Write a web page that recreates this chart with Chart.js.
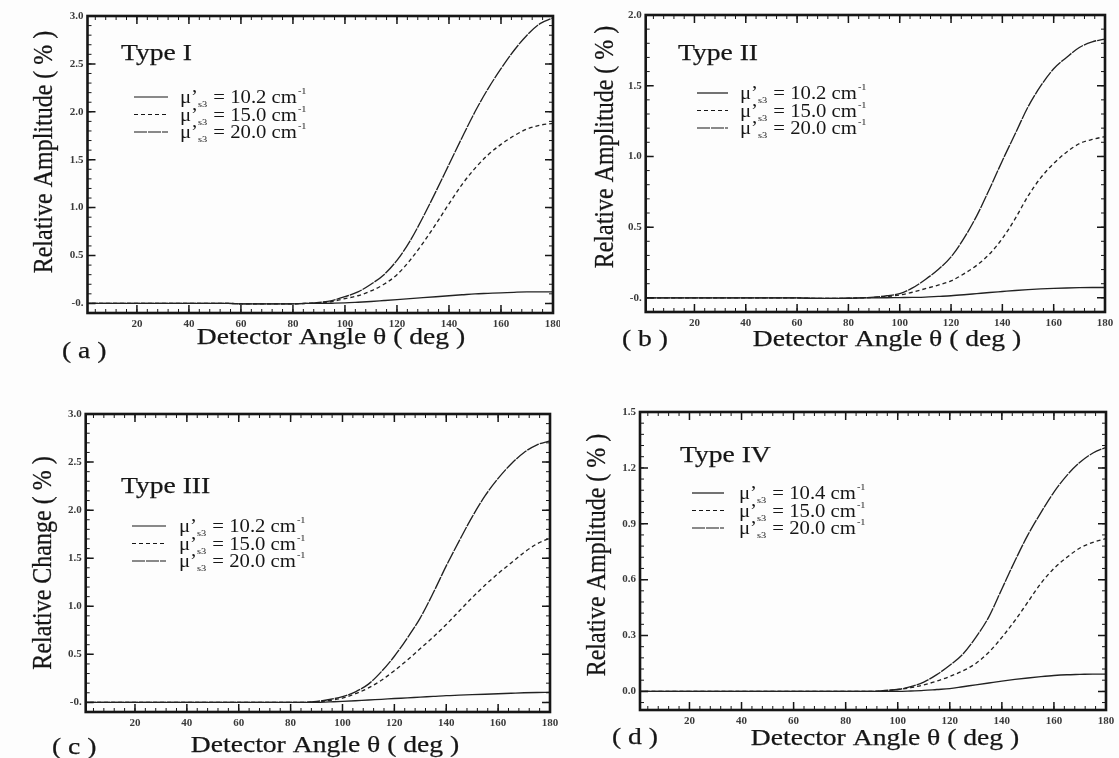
<!DOCTYPE html>
<html>
<head>
<meta charset="utf-8">
<script src="https://cdn.jsdelivr.net/npm/chart.js@4.4.1/dist/chart.umd.min.js"></script>
<style>
  html, body { margin: 0; padding: 0; background: #fdfdfd; overflow: hidden; }
  #wrap { position: relative; width: 1119px; height: 758px; }
  .panel { position: absolute; width: 560px; height: 380px; }
</style>
</head>
<body>
<div id="wrap">
  <div class="panel" style="left:0;top:0"><canvas id="chartA" width="560" height="380"></canvas></div>
  <div class="panel" style="left:560px;top:0"><canvas id="chartB" width="560" height="380"></canvas></div>
  <div class="panel" style="left:0;top:380px"><canvas id="chartC" width="560" height="380"></canvas></div>
  <div class="panel" style="left:560px;top:380px"><canvas id="chartD" width="560" height="380"></canvas></div>
</div>
<script>
// detector angle (deg), 0..180 every 5 deg
const angles = [0, 5, 10, 15, 20, 25, 30, 35, 40, 45, 50, 55, 60, 65, 70, 75, 80, 85,
                90, 95, 100, 105, 110, 115, 120, 125, 130, 135, 140, 145, 150, 155, 160, 165, 170, 175, 180];
const xTicks = [20, 40, 60, 80, 100, 120, 140, 160, 180];

// Type I - relative amplitude (%)
const typeI_mu10 = [0, 0, 0, 0, 0, 0, 0, 0, 0, 0, 0, 0, -0.004, -0.005, -0.005, -0.005, -0.004, 0,
  0, 0.002, 0.005, 0.012, 0.02, 0.03, 0.04, 0.05, 0.06, 0.07, 0.08, 0.09, 0.10, 0.105, 0.11, 0.116, 0.12, 0.12, 0.12];
const typeI_mu15 = [0, 0, 0, 0, 0, 0, 0, 0, 0, 0, 0, 0, -0.004, -0.005, -0.005, -0.005, -0.004, 0,
  0.005, 0.02, 0.05, 0.08, 0.13, 0.20, 0.30, 0.45, 0.63, 0.83, 1.04, 1.24, 1.41, 1.55, 1.66, 1.75, 1.82, 1.86, 1.88];
const typeI_mu20 = [0, 0, 0, 0, 0, 0, 0, 0, 0, 0, 0, 0, -0.004, -0.005, -0.005, -0.005, -0.004, 0,
  0.01, 0.03, 0.07, 0.12, 0.20, 0.30, 0.45, 0.65, 0.90, 1.17, 1.45, 1.73, 2.00, 2.24, 2.45, 2.64, 2.80, 2.92, 2.98];

// Type II - relative amplitude (%)
const typeII_mu10 = [0, 0, 0, 0, 0, 0, 0, 0, 0, 0, 0, 0, 0, -0.003, -0.004, -0.004, -0.003, 0,
  0, 0.001, 0.002, 0.003, 0.005, 0.01, 0.015, 0.022, 0.03, 0.038, 0.045, 0.052, 0.058, 0.063, 0.067, 0.07, 0.072, 0.073, 0.073];
const typeII_mu15 = [0, 0, 0, 0, 0, 0, 0, 0, 0, 0, 0, 0, 0, -0.003, -0.004, -0.004, -0.003, 0,
  0.003, 0.01, 0.02, 0.04, 0.065, 0.09, 0.12, 0.17, 0.23, 0.31, 0.42, 0.56, 0.72, 0.85, 0.95, 1.03, 1.09, 1.12, 1.14];
const typeII_mu20 = [0, 0, 0, 0, 0, 0, 0, 0, 0, 0, 0, 0, 0, -0.003, -0.004, -0.004, -0.003, 0,
  0.005, 0.015, 0.03, 0.07, 0.13, 0.20, 0.29, 0.42, 0.58, 0.77, 0.97, 1.16, 1.35, 1.50, 1.62, 1.70, 1.77, 1.81, 1.83];

// Type III - relative change (%)
const typeIII_mu10 = [0, 0, 0, 0, 0, 0, 0, 0, 0, 0, 0, 0, 0, 0, 0, 0, 0, 0,
  0, 0.005, 0.01, 0.017, 0.025, 0.032, 0.04, 0.047, 0.055, 0.062, 0.07, 0.075, 0.08, 0.085, 0.09, 0.095, 0.10, 0.103, 0.105];
const typeIII_mu15 = [0, 0, 0, 0, 0, 0, 0, 0, 0, 0, 0, 0, 0, 0, 0, 0, 0, 0,
  0.005, 0.02, 0.045, 0.09, 0.15, 0.23, 0.33, 0.44, 0.56, 0.68, 0.81, 0.95, 1.09, 1.22, 1.34, 1.45, 1.56, 1.65, 1.71];
const typeIII_mu20 = [0, 0, 0, 0, 0, 0, 0, 0, 0, 0, 0, 0, 0, 0, 0, 0, 0, 0,
  0.01, 0.03, 0.06, 0.11, 0.19, 0.32, 0.48, 0.67, 0.88, 1.14, 1.42, 1.68, 1.93, 2.15, 2.33, 2.48, 2.60, 2.68, 2.72];

// Type IV - relative amplitude (%)
const typeIV_mu104 = [0, 0, 0, 0, 0, 0, 0, 0, 0, 0, 0, 0, 0, 0, 0, 0, 0, 0,
  0, 0, 0, 0.002, 0.005, 0.01, 0.015, 0.025, 0.035, 0.045, 0.055, 0.064, 0.072, 0.079, 0.085, 0.089, 0.091, 0.093, 0.093];
const typeIV_mu15 = [0, 0, 0, 0, 0, 0, 0, 0, 0, 0, 0, 0, 0, 0, 0, 0, 0, 0,
  0, 0.003, 0.01, 0.02, 0.035, 0.055, 0.08, 0.11, 0.15, 0.21, 0.29, 0.38, 0.48, 0.58, 0.66, 0.72, 0.77, 0.80, 0.82];
const typeIV_mu20 = [0, 0, 0, 0, 0, 0, 0, 0, 0, 0, 0, 0, 0, 0, 0, 0, 0, 0,
  0, 0.005, 0.01, 0.025, 0.05, 0.09, 0.14, 0.20, 0.29, 0.40, 0.55, 0.70, 0.84, 0.96, 1.07, 1.16, 1.23, 1.28, 1.31];

// legend values (cm^-1) and y tick values
const muI = ['10.2', '15.0', '20.0'];
const muII = ['10.2', '15.0', '20.0'];
const muIII = ['10.2', '15.0', '20.0'];
const muIV = ['10.4', '15.0', '20.0'];
const yTicksI = [0, 0.5, 1.0, 1.5, 2.0, 2.5, 3.0];
const yTicksII = [0, 0.5, 1.0, 1.5, 2.0];
const yTicksIII = [0, 0.5, 1.0, 1.5, 2.0, 2.5, 3.0];
const yTicksIV = [0, 0.3, 0.6, 0.9, 1.2, 1.5];

const SERIF = '"Liberation Serif", "Times New Roman", serif';
const STRETCH = 1.15;
const INK = '#161616';
const DASHES = [[], [4, 3], [13, 1]];

// text drawn slightly wide, like the scanned figure
function stretchText(ctx, str, x, y, size, align, baseline) {
  ctx.save();
  ctx.translate(x, y);
  ctx.scale(STRETCH, 1);
  ctx.font = size + 'px ' + SERIF;
  ctx.textAlign = align || 'left';
  ctx.textBaseline = baseline || 'alphabetic';
  ctx.fillText(str, 0, 0);
  if (size >= 22) { ctx.lineWidth = 0.25; ctx.strokeText(str, 0, 0); }
  const w = ctx.measureText(str).width * STRETCH;
  ctx.restore();
  return w;
}

// frame, inward ticks, labels and legend for each panel
const panelDecor = {
  id: 'panelDecor',
  afterDraw(chart, args, o) {
    const { ctx, chartArea: a, scales: { x, y } } = chart;
    ctx.save();
    ctx.strokeStyle = INK;
    ctx.fillStyle = INK;

    // minor ticks
    ctx.lineWidth = 1;
    ctx.beginPath();
    for (let i = Math.ceil(x.min / o.xMinor); i * o.xMinor <= x.max + 1e-9; i++) {
      const px = x.getPixelForValue(i * o.xMinor);
      ctx.moveTo(px, a.bottom); ctx.lineTo(px, a.bottom - 4);
      ctx.moveTo(px, a.top); ctx.lineTo(px, a.top + 4);
    }
    for (let i = Math.ceil(y.min / o.yMinor); i * o.yMinor <= y.max + 1e-9; i++) {
      const py = y.getPixelForValue(i * o.yMinor);
      ctx.moveTo(a.left, py); ctx.lineTo(a.left + 4, py);
      ctx.moveTo(a.right, py); ctx.lineTo(a.right - 4, py);
    }
    ctx.stroke();

    // major ticks
    ctx.lineWidth = 1.5;
    ctx.beginPath();
    xTicks.forEach(v => {
      const px = x.getPixelForValue(v);
      ctx.moveTo(px, a.bottom); ctx.lineTo(px, a.bottom - 8);
      ctx.moveTo(px, a.top); ctx.lineTo(px, a.top + 8);
    });
    o.yTicks.forEach(v => {
      const py = y.getPixelForValue(v);
      ctx.moveTo(a.left, py); ctx.lineTo(a.left + 8, py);
      ctx.moveTo(a.right, py); ctx.lineTo(a.right - 8, py);
    });
    ctx.stroke();

    // frame
    ctx.lineWidth = 2.6;
    ctx.strokeRect(a.left, a.top, a.right - a.left, a.bottom - a.top);

    // type label
    stretchText(ctx, o.typeLabel, o.typeX, o.typeY, 24);

    // legend
    chart.data.datasets.forEach((ds, i) => {
      const cy = o.legendY + i * o.legendStep;
      ctx.lineWidth = 1.2;
      ctx.setLineDash(ds.borderDash || []);
      ctx.beginPath();
      ctx.moveTo(o.legendX1, cy); ctx.lineTo(o.legendX2, cy);
      ctx.stroke();
      ctx.setLineDash([]);
      const base = cy + 6;
      let tx = o.legendTextX;
      tx += stretchText(ctx, 'μ’', tx, base, 18);
      tx += stretchText(ctx, 's3', tx, base + 4, 9) + 1;
      tx += stretchText(ctx, ' = ' + o.mu[i] + ' cm', tx, base, 18);
      stretchText(ctx, '-1', tx + 1, base - 9, 9);
    });

    // axis titles
    ctx.save();
    ctx.translate(o.yTitleX, o.yTitleY);
    ctx.scale(STRETCH, 1);
    ctx.rotate(-Math.PI / 2);
    ctx.font = '24px ' + SERIF;
    ctx.textAlign = 'center';
    ctx.textBaseline = 'middle';
    ctx.fillText(o.yTitle, 0, 0);
    ctx.lineWidth = 0.25;
    ctx.strokeText(o.yTitle, 0, 0);
    ctx.restore();

    stretchText(ctx, 'Detector Angle θ ( deg )', o.xTitleX, o.xTitleY, 24, 'center', 'middle');
    stretchText(ctx, o.panelLabel, o.panelX, o.panelY, 24, 'left', 'middle');
    ctx.restore();
  }
};

function makePanel(id, series, mu, yTicks, zeroLabel, box, deco) {
  const X_H = 20;
  return new Chart(document.getElementById(id), {
    type: 'line',
    data: {
      datasets: series.map((s, i) => ({
        label: 'μ’s3 = ' + mu[i] + ' cm-1',
        data: angles.map((ang, k) => ({ x: ang, y: s[k] })),
        borderColor: '#222222',
        borderWidth: 1.35,
        borderDash: DASHES[i],
        pointRadius: 0,
        cubicInterpolationMode: 'monotone',
        fill: false
      }))
    },
    options: {
      responsive: false,
      animation: false,
      layout: { padding: { left: 0, top: box.top, right: 560 - box.right, bottom: 380 - box.bottom - X_H } },
      plugins: {
        legend: { display: false },
        tooltip: { enabled: false },
        panelDecor: Object.assign({ yTicks, mu }, deco)
      },
      scales: {
        x: {
          type: 'linear', min: 1, max: 180,
          grid: { display: false, drawTicks: false },
          border: { display: false },
          afterBuildTicks: s => { s.ticks = xTicks.map(v => ({ value: v })); },
          afterFit: s => { s.height = X_H; s.paddingLeft = 0; s.paddingRight = 0; },
          ticks: { autoSkip: false, maxRotation: 0, padding: 5, color: '#3a3a3a',
                   font: { family: SERIF, size: 11, weight: 'bold' } }
        },
        y: {
          min: -0.1, max: yTicks[yTicks.length - 1],
          grid: { display: false, drawTicks: false },
          border: { display: false },
          afterBuildTicks: s => { s.ticks = yTicks.map(v => ({ value: v })); },
          afterFit: s => { s.width = box.left; s.paddingTop = 0; s.paddingBottom = 0; },
          ticks: { padding: 4, color: '#3a3a3a', font: { family: SERIF, size: 11, weight: 'bold' },
                   callback: v => (v === 0 ? zeroLabel : v.toFixed(1)) }
        }
      }
    },
    plugins: [panelDecor]
  });
}

makePanel('chartA', [typeI_mu10, typeI_mu15, typeI_mu20], muI, yTicksI, '-0.',
  { left: 87.5, right: 553, top: 16, bottom: 313 },
  { xMinor: 4, yMinor: 0.1, typeLabel: 'Type I', typeX: 121, typeY: 60,
    legendX1: 134, legendX2: 168, legendTextX: 180, legendY: 97, legendStep: 17.5,
    yTitle: 'Relative Amplitude ( % )', yTitleX: 45, yTitleY: 152,
    xTitleX: 331, xTitleY: 338, panelLabel: '( a )', panelX: 62, panelY: 352 });

makePanel('chartB', [typeII_mu10, typeII_mu15, typeII_mu20], muII, yTicksII, '-0.',
  { left: 85.7, right: 545, top: 15, bottom: 312 },
  { xMinor: 4, yMinor: 0.1, typeLabel: 'Type II', typeX: 118, typeY: 60,
    legendX1: 137, legendX2: 168, legendTextX: 180, legendY: 93, legendStep: 17.5,
    yTitle: 'Relative Amplitude ( % )', yTitleX: 46, yTitleY: 147,
    xTitleX: 327, xTitleY: 340, panelLabel: '( b )', panelX: 62, panelY: 340 });

makePanel('chartC', [typeIII_mu10, typeIII_mu15, typeIII_mu20], muIII, yTicksIII, '-0.',
  { left: 85.7, right: 550, top: 34, bottom: 332 },
  { xMinor: 4, yMinor: 0.1, typeLabel: 'Type III', typeX: 121, typeY: 113,
    legendX1: 132, legendX2: 166, legendTextX: 179, legendY: 146, legendStep: 17.5,
    yTitle: 'Relative Change ( % )', yTitleX: 44, yTitleY: 183,
    xTitleX: 325, xTitleY: 366, panelLabel: '( c )', panelX: 52, panelY: 368 });

makePanel('chartD', [typeIV_mu104, typeIV_mu15, typeIV_mu20], muIV, yTicksIV, '0.0',
  { left: 80, right: 546, top: 32, bottom: 330 },
  { xMinor: 4, yMinor: 0.06, typeLabel: 'Type IV', typeX: 120, typeY: 82,
    legendX1: 132, legendX2: 164, legendTextX: 179, legendY: 113, legendStep: 17.5,
    yTitle: 'Relative Amplitude ( % )', yTitleX: 38, yTitleY: 175,
    xTitleX: 325, xTitleY: 359, panelLabel: '( d )', panelX: 52, panelY: 358 });
</script>
</body>
</html>
